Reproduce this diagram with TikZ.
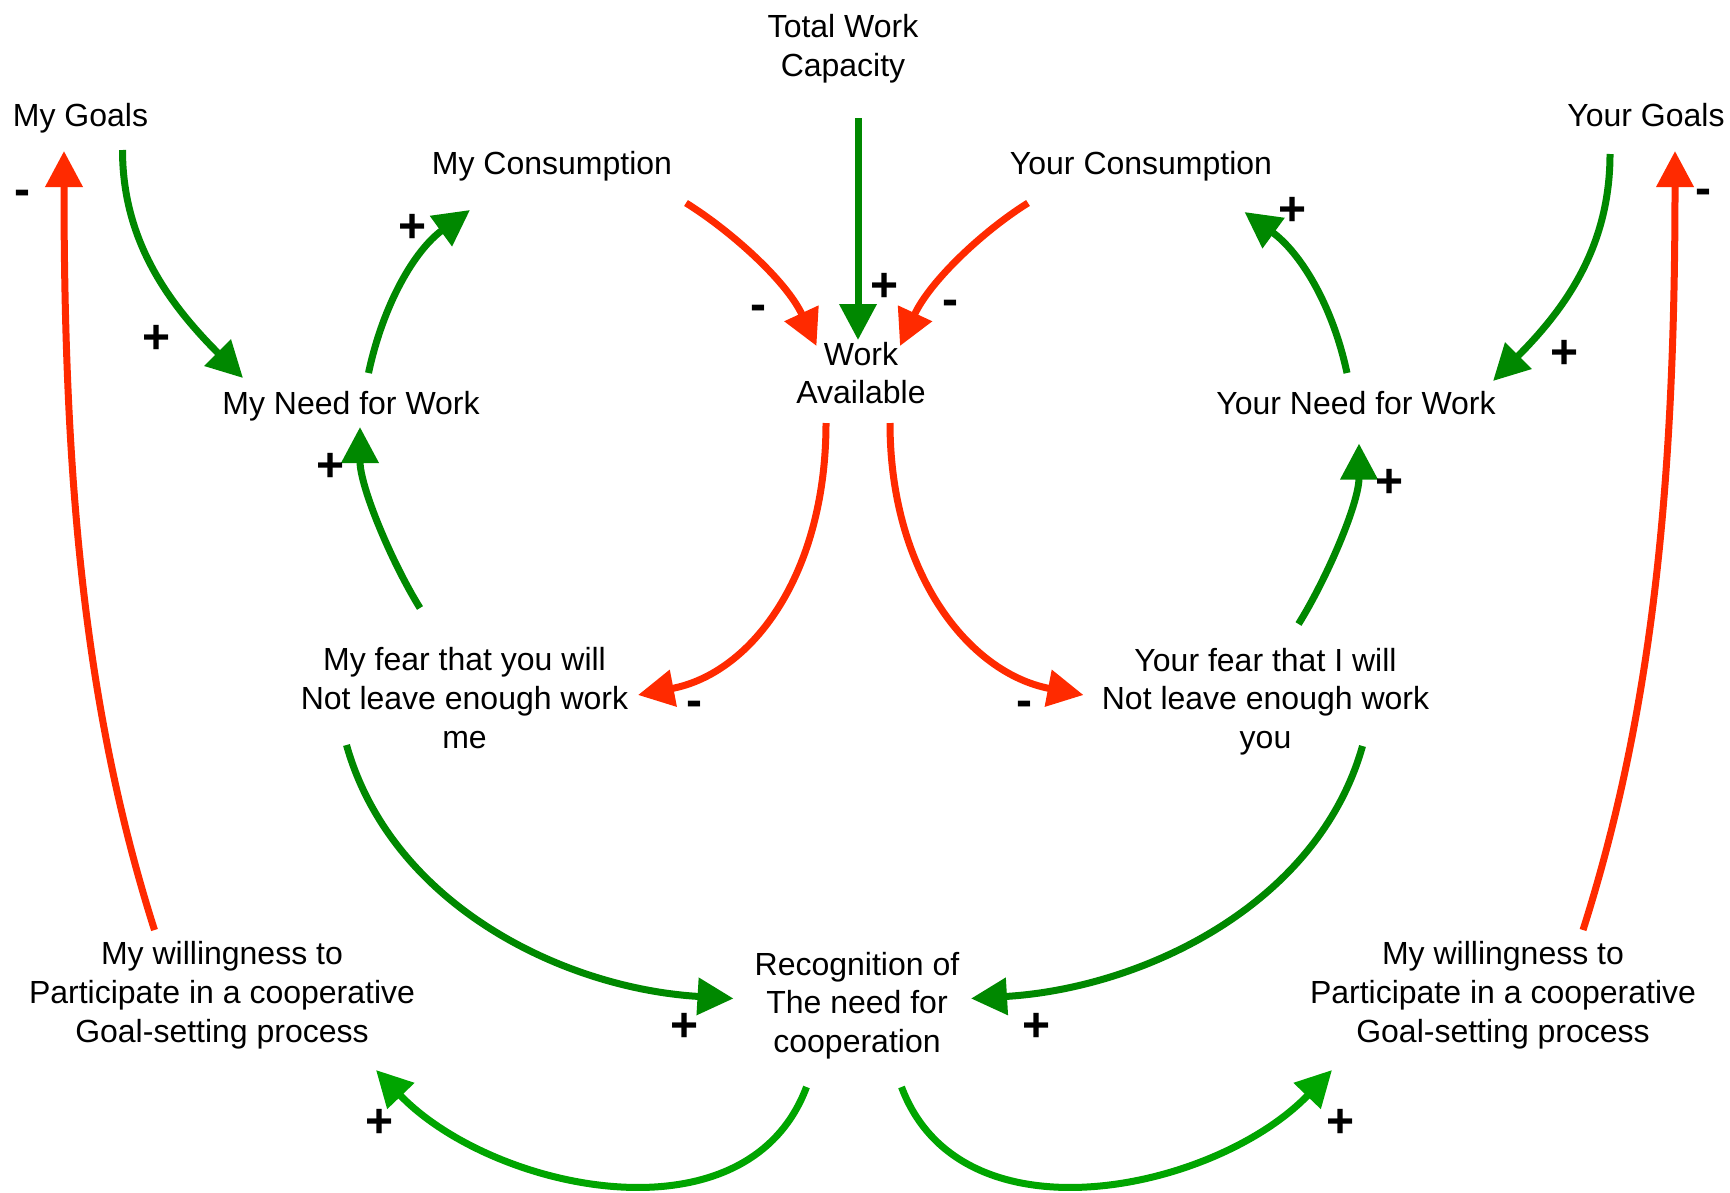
\documentclass[tikz,border=0pt]{standalone}
\usepackage{fontspec}
\setmainfont{Liberation Sans}
\usetikzlibrary{arrows.meta,calc}
\definecolor{posgreen}{RGB}{0,136,0}
\definecolor{linkgreen}{RGB}{0,165,0}
\definecolor{negred}{RGB}{255,42,0}

\begin{document}
\begin{tikzpicture}[x=0.75pt,y=-0.75pt,
  var/.style={align=center,font=\fontsize{24}{29}\selectfont,inner sep=0pt},
  sign/.style={font=\fontsize{36}{36}\selectfont\bfseries,inner sep=0pt},
  causal/.style={line width=5.25pt,-{Triangle[length=27pt,width=27pt]}},
  poslink/.style={causal,draw=posgreen},
  cooplink/.style={causal,draw=linkgreen},
  neglink/.style={causal,draw=negred}]

% canvas
\fill[white] (0,0) rectangle (1730,1192);
\useasboundingbox (0,0) rectangle (1730,1192);

% variables
\node[var] (tot) at (843,48.4)   {Total Work\\Capacity};
\node[var] (mg)  at (80.5,118.3) {My Goals};
\node[var] (yg)  at (1646,115)   {Your Goals};
\node[var] (mc)  at (552,166.3)  {My Consumption};
\node[var] (yc)  at (1141,166.3) {Your Consumption};
\node[var] (wa)  at (861,373)    {Work\\Available};
\node[var] (mn)  at (351,406.3)  {My Need for Work};
\node[var] (yn)  at (1356,403)   {Your Need for Work};
\node[var] (mf)  at (464.5,698)  {My fear that you will\\Not leave enough work\\me};
\node[var] (yf)  at (1265.5,701.4) {Your fear that I will\\Not leave enough work\\you};
\node[var] (lw)  at (222,995.3)  {My willingness to\\Participate in a cooperative\\Goal-setting process};
\node[var] (rw)  at (1503,995.3) {My willingness to\\Participate in a cooperative\\Goal-setting process};
\node[var] (rec) at (857,1005.4) {Recognition of\\The need for\\cooperation};

% causal links
\draw[poslink] ($(mg)+(42,31.7)$) .. controls +(0,90) and +(-75,-75) .. ($(mn)+(-108,-28.3)$);
\draw[poslink] ($(mn)+(17.5,-33.3)$) .. controls +(15,-70) and +(-55,40) .. ($(mc)+(-82,43.7)$);
\draw[poslink] ($(mf)+(-44.5,-90)$) .. controls +(-28,-45) and +(0,60) .. ($(mn)+(9,20.7)$);
\draw[neglink] ($(mc)+(134,36.7)$) .. controls +(45,28) and +(-30,-65) .. ($(wa)+(-44.5,-27)$);
\draw[poslink] ($(tot)+(15,69.6)$) -- ($(wa)+(-3,-33)$);
\draw[neglink] ($(yc)+(-113,36.7)$) .. controls +(-45,28) and +(30,-65) .. ($(wa)+(39,-27)$);
\draw[neglink] ($(wa)+(-35,50)$) .. controls +(0,150) and +(115,-22) .. ($(mf)+(173.5,-3)$);
\draw[neglink] ($(wa)+(29,50)$) .. controls +(0,150) and +(-115,-22) .. ($(yf)+(-182,-6.4)$);
\draw[poslink] ($(yg)+(-36,39)$) .. controls +(0,90) and +(75,-75) .. ($(yn)+(137,-22)$);
\draw[poslink] ($(yn)+(-9,-30)$) .. controls +(-15,-70) and +(55,40) .. ($(yc)+(103.5,45.7)$);
\draw[poslink] ($(yf)+(33,-77.4)$) .. controls +(28,-45) and +(0,60) .. ($(yn)+(3,40.5)$);
\draw[poslink] ($(mf)+(-118,47)$) .. controls +(45,160) and +(-170,-10) .. ($(rec)+(-123.5,-6.9)$);
\draw[poslink] ($(yf)+(97,44.6)$) .. controls +(-45,160) and +(170,-10) .. ($(rec)+(114,-6.9)$);
\draw[cooplink] ($(rec)+(-50.5,81.6)$) .. controls +(-60,160) and +(115,120) .. ($(lw)+(154,74.7)$);
\draw[cooplink] ($(rec)+(44.5,81.6)$) .. controls +(60,160) and +(-115,120) .. ($(rw)+(-171,74.7)$);
\draw[neglink] ($(lw)+(-67.5,-65.3)$) .. controls +(-70,-220) and +(0,330) .. ($(mg)+(-16.5,32.7)$);
\draw[neglink] ($(rw)+(80,-65.3)$) .. controls +(70,-220) and +(0,330) .. ($(yg)+(29,36)$);

% link polarities
\node[sign] (p1)  at (22,198)      {-};
\node[sign] (p2)  at (156.5,339.5) {+};
\node[sign] (p3)  at (412.5,228)   {+};
\node[sign] (p4)  at (331,467.5)   {+};
\node[sign] (p5)  at (758,313)     {-};
\node[sign] (p6)  at (885,287.6)   {+};
\node[sign] (p7)  at (950,308)     {-};
\node[sign] (p8)  at (1292,211.5)  {+};
\node[sign] (p9)  at (1564.5,354)  {+};
\node[sign] (p10) at (1703,197)    {-};
\node[sign] (p11) at (1389,483)    {+};
\node[sign] (p12) at (694,709)     {-};
\node[sign] (p13) at (1024,709)    {-};
\node[sign] (p14) at (685,1027)    {+};
\node[sign] (p15) at (1036,1027)   {+};
\node[sign] (p16) at (379.5,1123)  {+};
\node[sign] (p17) at (1340.5,1123) {+};
\end{tikzpicture}
\end{document}
